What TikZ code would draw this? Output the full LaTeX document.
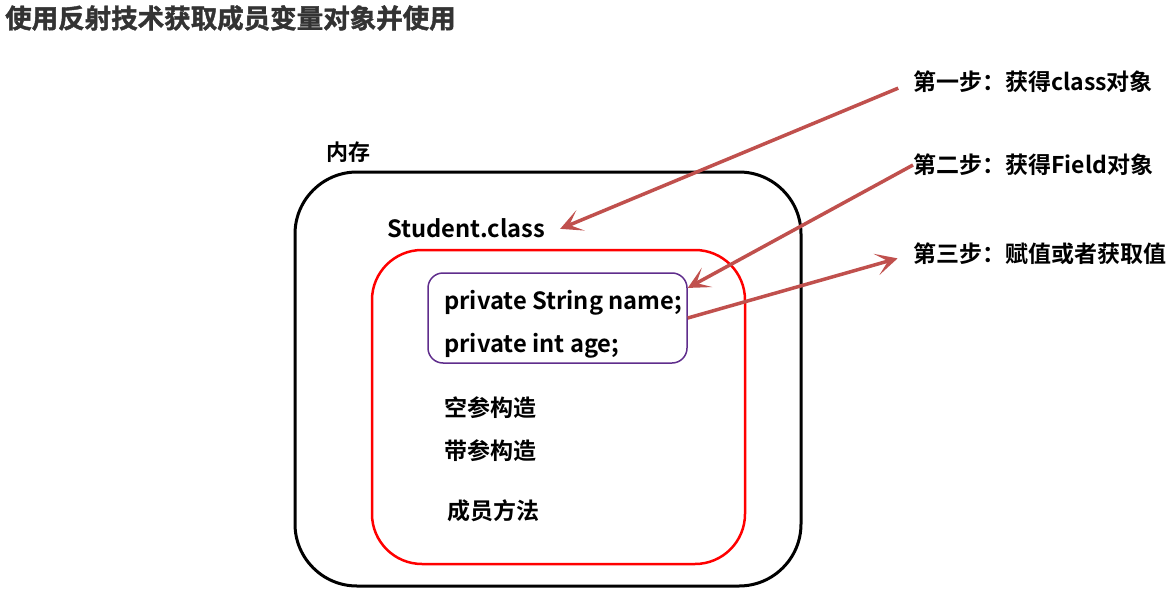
\documentclass[tikz,border=0pt]{standalone}
\usepackage{fontspec}
\setmainfont{Noto Sans CJK SC}[BoldFont={* Bold}]
\newfontfamily\titlefont{Noto Sans CJK SC Bold}[FakeBold=1.5]
\usetikzlibrary{arrows.meta}
\definecolor{arrowred}{RGB}{192,80,77}
\definecolor{fieldpurple}{RGB}{95,45,140}
\definecolor{titlegray}{RGB}{51,51,51}
\tikzset{
  lbl/.style={anchor=west,inner sep=0pt,font=\bfseries\fontsize{23}{28}\selectfont},
  codelbl/.style={anchor=west,inner sep=0pt,font=\bfseries\fontsize{23.7}{28}\selectfont},
  steplbl/.style={lbl},
  arr/.style={draw=arrowred,line width=3.5pt,-{Stealth[length=22pt,width=22pt,inset=12pt]}},
}
\begin{document}
\begin{tikzpicture}[x=1pt,y=-1pt]
\useasboundingbox (0,0) rectangle (1167,594);
\node[anchor=west,inner sep=0pt,text=titlegray,font=\titlefont\fontsize{26.5}{30}\selectfont] (title) at (5,18) {使用反射技术获取成员变量对象并使用};
% boxes
\node[draw=black,line width=3pt,rounded corners=62pt,minimum width=506pt,minimum height=414pt,inner sep=0pt] (mem) at (548,379) {};
\node[draw=red,line width=2.5pt,rounded corners=50pt,minimum width=373pt,minimum height=314pt,inner sep=0pt] (cls) at (558.5,407) {};
\node[draw=fieldpurple,line width=1.5pt,rounded corners=15pt,minimum width=259pt,minimum height=90pt,inner sep=0pt] (fields) at (557.5,318) {};
% texts
\node[lbl,font=\bfseries\fontsize{22}{26}\selectfont] (memlbl) at (326,152) {内存};
\node[codelbl] (stu) at (387,228) {Student.class};
\node[codelbl] (f1) at (444,303) {private String name;};
\node[codelbl] (f2) at (444,346) {private int age;};
\node[lbl] (c1) at (444,408) {空参构造};
\node[lbl] (c2) at (444,451) {带参构造};
\node[lbl] (m1) at (447,511) {成员方法};
\node[steplbl] (s1) at (913,82) {第一步：获得class对象};
\node[steplbl] (s2) at (913,165) {第二步：获得Field对象};
\node[steplbl] (s3) at (913,254) {第三步：赋值或者获取值};
% arrows
\draw[arr,shorten <=16pt,shorten >=16pt] (s1.west) -- ([yshift=-7pt]stu.east);
\draw[arr] (s2.west) -- (fields.13);
\draw[arr,shorten >=16pt] (fields.east) -- (s3.west);
\end{tikzpicture}
\end{document}
